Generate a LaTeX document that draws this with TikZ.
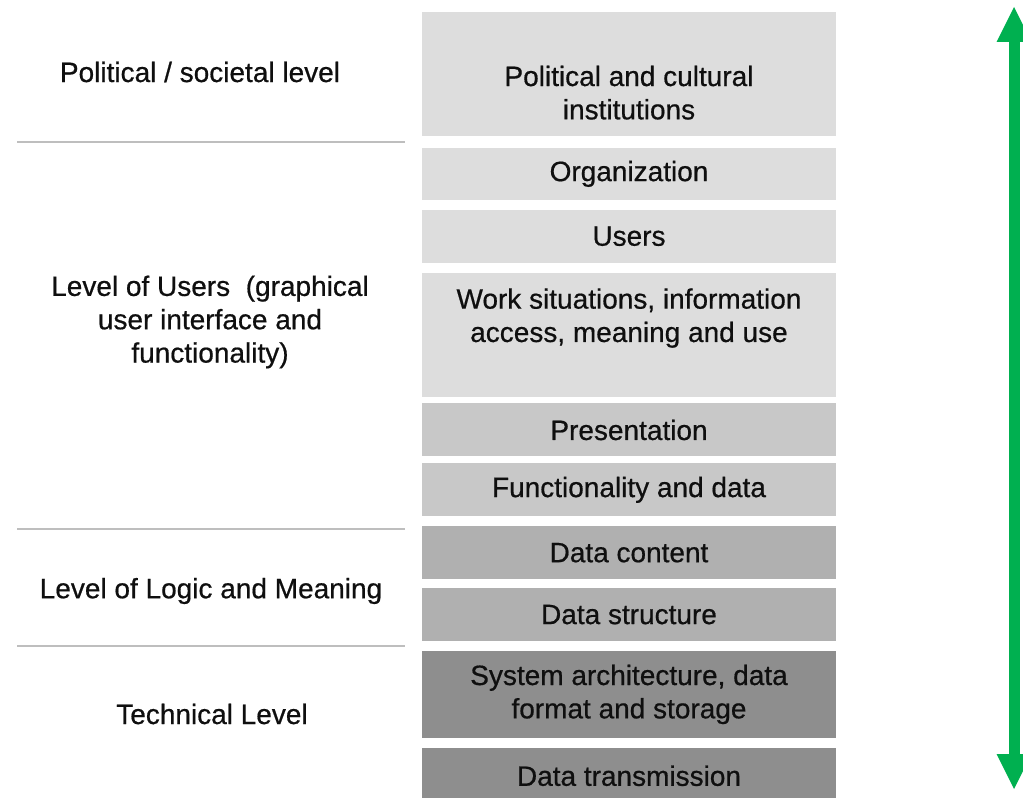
\documentclass[tikz,border=0pt]{standalone}
\usepackage{fontspec}
\setmainfont{Liberation Sans}[UprightFeatures={FakeBold=0.6}]
\usetikzlibrary{positioning,arrows.meta}

\definecolor{layerA}{RGB}{221,221,221}
\definecolor{layerB}{RGB}{200,200,200}
\definecolor{layerC}{RGB}{176,176,176}
\definecolor{layerD}{RGB}{142,142,142}
\definecolor{inkgray}{RGB}{15,15,15}
\definecolor{sepgray}{RGB}{190,190,190}
\definecolor{arrowgreen}{RGB}{0,176,80}

\tikzset{
  every node/.style={font=\fontsize{21}{25}\selectfont, text=inkgray},
  layer/.style={fill=#1, minimum width=310.5pt, inner sep=0pt, align=center},
  lvlname/.style={align=center, inner sep=0pt},
  sepline/.style={draw=sepgray, line width=1.3pt},
}

\begin{document}
\begin{tikzpicture}[x=0.75pt, y=-0.75pt, node distance=7pt]
    \useasboundingbox (0,0) rectangle (1023,798);

    % stack of layers
    \node[layer=layerA, minimum height=93pt] (inst) at (629,74) {};
    \node[layer=layerA, minimum height=39pt, below=8.5pt of inst] (org) {Organization};
    \node[layer=layerA, minimum height=39.75pt, below=of org] (users) {Users};
    \node[layer=layerA, minimum height=93pt, below=of users] (work) {};
    \node[layer=layerB, minimum height=39.75pt, below=4.75pt of work] (pres) {Presentation};
    \node[layer=layerB, minimum height=39.75pt, below=4.75pt of pres] (func) {Functionality and data};
    \node[layer=layerC, minimum height=39.75pt, below=of func] (content) {Data content};
    \node[layer=layerC, minimum height=39.75pt, below=6.25pt of content] (struct) {Data structure};
    \node[layer=layerD, minimum height=65.25pt, below=of struct] (arch) {System architecture, data\\format and storage};
    \node[layer=layerD, minimum height=42pt, below=of arch] (trans) {Data transmission};

    \node[lvlname] (insttxt) at ([yshift=-14pt]inst.center) {Political and cultural\\institutions};
    \node[lvlname] (worktxt) at ([yshift=12.4pt]work.center) {Work situations, information\\access, meaning and use};

    % levels on the left
    \node[lvlname] (political) at (200,72) {Political / societal level};
    \node[lvlname] (userlvl) at (210,322) {Level of Users~ (graphical\\user interface and\\functionality)};
    \node[lvlname] (logic) at (211,591) {Level of Logic and Meaning};
    \node[lvlname] (technical) at (212,714) {Technical Level};

    \draw[sepline] (17,142) -- (405,142);
    \draw[sepline] (17,529) -- (405,529);
    \draw[sepline] (17,646) -- (405,646);

    % green arrow
    \coordinate (atop) at (1014,6);
    \coordinate (abot) at (1014,790);
    \draw[arrowgreen, line width=8.25pt,
          {Triangle[width=24pt,length=27pt]}-{Triangle[width=24pt,length=27pt]}] (atop) -- (abot);
\end{tikzpicture}
\end{document}
